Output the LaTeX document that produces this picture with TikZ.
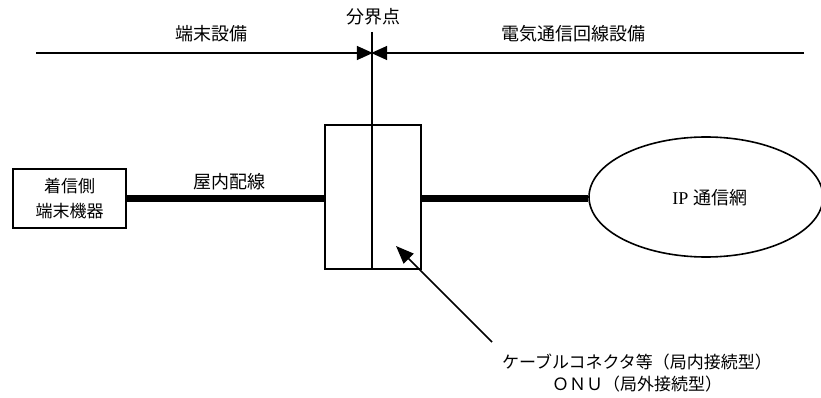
\documentclass[tikz,border=0pt]{standalone}
\usepackage{fontspec}
\newfontfamily\jp{Noto Sans CJK JP}
\newfontfamily\lat{Liberation Serif}
\usetikzlibrary{arrows.meta,shapes.geometric}
\begin{document}
\begin{tikzpicture}[x=1pt,y=-1pt,
  thin line/.style={line width=1.6pt},
  thick line/.style={line width=7pt},
  lbl/.style={font=\jp\fontsize{18}{22}\selectfont, inner sep=0pt},
  box/.style={draw, line width=1.6pt, inner sep=0pt},
  tri/.style={-{Triangle[length=16pt,width=14pt]}}]
\useasboundingbox (0,0) rectangle (821,398);
% top boundary line
\coordinate (L) at (36,53);
\coordinate (R) at (804,53);
\coordinate (M) at (372,53);
\coordinate (vtop) at (372,32);
\draw[thin line, tri, shorten >=-0.8pt] (L) -- (M);
\draw[thin line, tri, shorten >=-0.8pt] (R) -- (M);
\node[lbl] (t1) at (211,34) {端末設備};
\node[lbl] (t2) at (373,17) {分界点};
\node[lbl] (t3) at (573,34) {電気通信回線設備};
% connector box
\node[box, minimum width=96pt, minimum height=144pt] (cb) at (373,197) {};
\draw[thin line] (vtop) -- (vtop |- cb.south);
% left terminal
\node[box, minimum width=113pt, minimum height=59pt, align=center, font=\jp\fontsize{17}{25}\selectfont] (term) at (69.5,198.5) {着信側\\端末機器};
% IP network
\node[draw, ellipse, line width=1.6pt, minimum width=234pt, minimum height=120pt, inner sep=0pt] (ip) at (706,197) {};
\node[inner sep=0pt, font=\fontsize{18}{22}\selectfont] (iptext) at (710,198) {{\lat IP} {\jp 通信網}};
% thick wires
\draw[thick line] (term.east |- 0,198) -- (cb.west |- 0,198);
\draw[thick line] (cb.east |- 0,198) -- (ip.west |- 0,198);
\node[lbl] (wire) at (229,182) {屋内配線};
% pointer
\coordinate (ptail) at (492,342);
\coordinate (phead) at (396,246);
\draw[thin line, -{Triangle[length=18pt,width=14pt]}] (ptail) -- (phead);
\node[lbl, font=\jp\fontsize{17}{21}\selectfont] (c1) at (637,362) {ケーブルコネクタ等（局内接続型）};
\node[lbl, font=\jp\fontsize{17}{21}\selectfont] (c2) at (637,384) {ＯＮＵ（局外接続型）};
\end{tikzpicture}
\end{document}
